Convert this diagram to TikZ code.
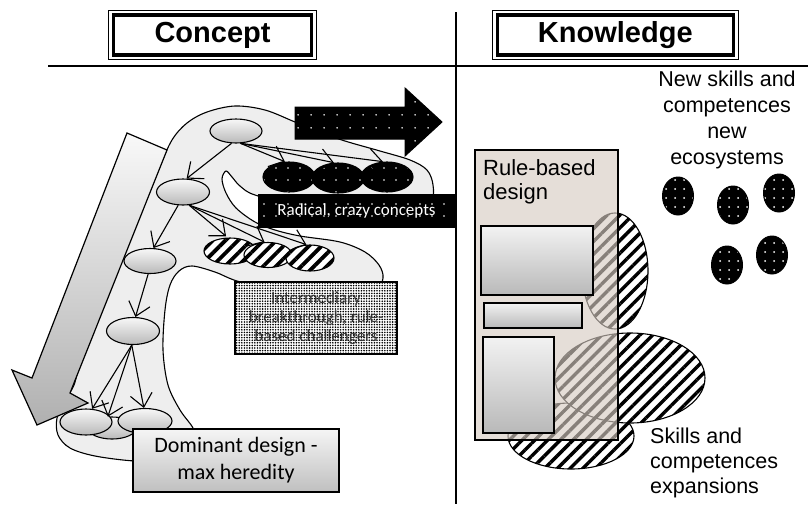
\documentclass[tikz,border=0pt]{standalone}
\usepackage{fontspec}
\setmainfont{Liberation Sans}
\newfontfamily\calib{Carlito}
\usetikzlibrary{shapes.geometric, arrows.meta, patterns.meta, calc}
\definecolor{beige}{RGB}{214,203,194}
\tikzset{
  ell/.style={ellipse, draw, line width=1.1pt, inner sep=0pt, top color=gray!6, bottom color=gray!55, minimum width=52pt, minimum height=25pt},
  blk/.style={ellipse, draw, line width=1.1pt, inner sep=0pt, preaction={fill=black}, pattern={Dots[distance=12pt, radius=0.9pt]}, pattern color=white, minimum width=52pt, minimum height=30pt},
  hat/.style={ellipse, draw, line width=1.1pt, inner sep=0pt, preaction={fill=white}, pattern={Lines[angle=45, distance=9pt, line width=3.8pt]}, pattern color=black, minimum width=50pt, minimum height=26pt},
  hatR/.style={ellipse, draw, line width=1.1pt, inner sep=0pt, preaction={fill=white}, pattern={Lines[angle=45, distance=9pt, line width=3.4pt]}, pattern color=black},
  blkR/.style={ellipse, draw, line width=1pt, inner sep=0pt, preaction={fill=black}, pattern={Dots[distance=9pt, radius=1pt]}, pattern color=white, minimum width=31pt, minimum height=38pt},
  grect/.style={draw, line width=1.1pt, inner sep=0pt, top color=gray!10, bottom color=gray!55},
  arr/.style={line width=1.1pt, -{Straight Barb[length=13pt, width=22pt]}},
  head/.style={draw, line width=3.4pt, inner sep=0pt, minimum height=40pt, font=\bfseries\fontsize{29}{31}\selectfont},
  bigtxt/.style={inner sep=0pt, font=\fontsize{21.5}{26}\selectfont}
}
\begin{document}
\begin{tikzpicture}[x=1pt, y=-1pt]
\useasboundingbox (0,0) rectangle (808,504);

% ---------- headers and separators
\node[head, minimum width=198pt] (hc) at (212.5,35) {Concept};
\draw[line width=0.9pt] ($(hc.north west)+(-3,-3)$) rectangle ($(hc.south east)+(3,3)$);
\node[head, minimum width=236pt] (hk) at (615.3,35) {Knowledge};
\draw[line width=0.9pt] ($(hk.north west)+(-3,-3)$) rectangle ($(hk.south east)+(3,3)$);
\coordinate (hl1) at (48,66);
\coordinate (hl2) at (808,66);
\coordinate (vl1) at (456,12);
\coordinate (vl2) at (456,504);
\draw[line width=1.6pt] (hl1) -- (hl2);
\draw[line width=1.6pt] (vl1) -- (vl2);

% ---------- blob
\draw[line width=1.1pt, fill=gray!13] plot[smooth cycle, tension=0.55] coordinates {
 (57,418) (58,435) (70,448) (95,456) (135,461) (170,460) (195,440) (193,428)
 (180,410) (168,385) (163,350) (165,310) (170,285) (179,271) (192,266) (215,272)
 (237,281) (280,292) (340,295) (375,290) (383,278) (379,265) (365,252) (340,242)
 (300,236) (275,230) (255,222) (236,208) (226,193) (222,179) (226,171) (232,177)
 (240,186) (255,195) (300,205) (400,205) (430,200) (433,185) (427,170) (410,160)
 (380,151) (345,141) (320,132) (295,122) (265,110) (235,106) (207,112) (187,123)
 (172,140) (158,170) (140,210) (115,270) (95,320) (82,355) (74,385) (65,400)};

% ---------- big gray arrow
\draw[line width=1.2pt, top color=gray!5, bottom color=gray!62]
  (127,133) -- (167,150) -- (70,393) -- (88,403) -- (37,425) -- (12,370) -- (32,378) -- cycle;

% ---------- concept ellipses
\node[ell, minimum width=52pt, minimum height=24pt] (e1) at (236,131) {};
\node[ell, minimum width=53pt, minimum height=26pt] (e2) at (183,192) {};
\node[ell, minimum width=52pt, minimum height=25pt] (e3) at (150,261) {};
\node[ell, minimum width=53pt, minimum height=27pt] (e4) at (133,331) {};
\node[ell, minimum width=48pt, minimum height=22pt] (m1) at (112,428) {};
\node[ell, minimum width=52pt, minimum height=26pt] (l1) at (86,422) {};
\node[ell, minimum width=54pt, minimum height=25pt] (r1) at (145,421) {};

\node[blk] (b1) at (289,177) {};
\node[blk] (b2) at (338,178) {};
\node[blk] (b3) at (387,177) {};

\node[hat, minimum width=52pt] (h1) at (230,251) {};
\node[hat, minimum width=48pt, minimum height=25pt] (h2) at (268,255) {};
\node[hat, minimum width=48pt] (h3) at (310,258) {};

\draw[arr] (e1.250) -- (e2.75);
\foreach \t in {b1,b2,b3} \draw[arr] (e1.290) -- (\t.105);
\draw[arr] (e2.250) -- (e3.75);
\foreach \t in {h1,h2,h3} \draw[arr] (e2.295) -- (\t.105);
\draw[arr] (e3.262) -- (e4.80);
\draw[arr] (e4.265) -- (l1.65);
\draw[arr] (e4.265) -- (m1.110);
\draw[arr] (e4.265) -- (r1.95);

% ---------- black dotted arrow
\draw[line width=1pt, preaction={fill=black}, pattern={Dots[distance=13pt, radius=0.9pt]}, pattern color=white]
  (295,107) -- (405,107) -- (405,88) -- (442,122) -- (405,156) -- (405,139) -- (295,139) -- cycle;

% ---------- boxes
\node[draw, line width=1pt, preaction={fill=black}, pattern={Dots[distance=12pt, radius=0.9pt]}, pattern color=white,
      text=white, minimum width=197pt, minimum height=33pt, inner sep=0pt, font=\calib\fontsize{17}{19}\selectfont]
      (rad) at (356.5,210.5) {Radical, crazy concepts};
\node[draw, line width=1.1pt, preaction={fill=white}, pattern={Dots[distance=2.6pt, radius=0.9pt]}, pattern color=black,
      text=black!80, align=center, minimum width=162pt, minimum height=72pt, inner sep=0pt,
      font=\calib\fontsize{17}{19}\selectfont]
      (int) at (316,318) {Intermediary\\breakthrough, rule-\\based challengers};
\node[draw, line width=1.3pt, top color=gray!8, bottom color=gray!50, minimum width=206pt, minimum height=63pt,
      align=center, inner sep=0pt, font=\calib\fontsize{22}{27}\selectfont]
      (dom) at (236,460.5) {Dominant design -\\max heredity};

% ---------- knowledge side
\node[hatR, minimum width=126pt, minimum height=66pt] (kc) at (571,436) {};
\node[hatR, minimum width=150pt, minimum height=90pt] (kb) at (630,378) {};
\node[hatR, minimum width=66pt, minimum height=116pt] (ka) at (615,271) {};

\node[draw, line width=1.1pt, fill=beige, fill opacity=0.63, minimum width=143pt, minimum height=290pt, inner sep=0pt]
      (rule) at (546.5,295) {};
\node[anchor=north west, align=left, inner sep=0pt, font=\fontsize{22}{24}\selectfont] (rt) at (483,159) {Rule-based\\design};

\node[grect, minimum width=112pt, minimum height=69pt] (r1b) at (537,260.5) {};
\node[grect, minimum width=98pt, minimum height=25pt] (r2b) at (533,315.5) {};
\node[grect, minimum width=71pt, minimum height=96pt] (r3b) at (518.5,385) {};

\node[blkR] (d1) at (678,196) {};
\node[blkR] (d2) at (733,205) {};
\node[blkR] (d3) at (779,193) {};
\node[blkR] (d4) at (727,265) {};
\node[blkR] (d5) at (772,255) {};

\node[bigtxt, anchor=north, align=center] (nt) at (727,71) {New skills and\\competences\\new\\ecosystems};
\node[bigtxt, anchor=north west, align=left, font=\fontsize{21.5}{25}\selectfont] (st) at (650,427.5) {Skills and\\competences\\expansions};
\end{tikzpicture}
\end{document}
